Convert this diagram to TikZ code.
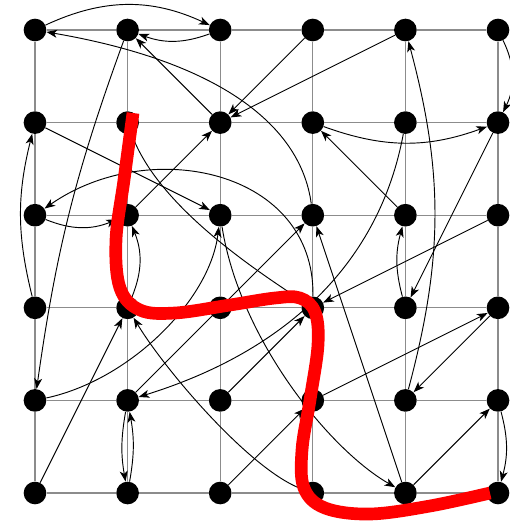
\documentclass[tikz,border=0pt]{standalone}
\usetikzlibrary{arrows.meta}
\begin{document}
\begin{tikzpicture}[x=0.75pt,y=0.75pt,
  dot/.style={circle,fill=black,inner sep=0pt,minimum size=17pt},
  gridln/.style={draw=black!45,line width=1pt},
  edge/.style={draw=black,line width=0.7pt,-{Stealth[length=8pt,width=6pt,inset=2.2pt]}},
  cut/.style={draw=red,line width=9.5pt}]
\useasboundingbox (0,0) rectangle (510,-526);
\foreach \i in {0,...,5}{\foreach \j in {0,...,5}{
  \node[dot] (n\i\j) at ({35+92.6*\i},{-30-92.6*\j}) {};}}
\foreach \i in {0,...,5}{\foreach \j/\k in {0/1,1/2,2/3,3/4,4/5}{
  \draw[gridln] (n\i\j) -- (n\i\k);
  \draw[gridln] (n\j\i) -- (n\k\i);}}
% edges
\draw[edge] (n00) to[bend left=25] (n20);
\draw[edge] (n20) to[bend left=20] (n10);
\draw[edge] (n32) .. controls (300,-120) and (210,-60) .. (n00);
\draw[edge] (n21) -- (n10);
\draw[edge] (n10) to[bend right=6] (n04);
\draw[edge] (n30) -- (n21);
\draw[edge] (n40) -- (n21);
\draw[edge] (n12) -- (n21);
\draw[edge] (n42) -- (n31);
\draw[edge] (n31) to[bend right=20] (n51);
\draw[edge] (n50) to[bend left=26] (n51);
\draw[edge] (n41) .. controls (380,-260) and (290,-350) .. (n14);
\draw[edge] (n43) to[bend left=15] (n42);
\draw[edge] (n51) -- (n43);
\draw[edge] (n44) to[bend right=15] (n40);
\draw[edge] (n53) -- (n44);
\draw[edge] (n34) -- (n53);
\draw[edge] (n45) -- (n32);
\draw[edge] (n45) -- (n54);
\draw[edge] (n54) to[bend left=15] (n55);
\draw[edge] (n52) -- (n33);
\draw[edge] (n24) -- (n33);
\draw[edge] (n25) -- (n34);
\draw[edge] (n22) .. controls (240,-340) and (330,-450) .. (n45);
\draw[edge] (n35) .. controls (250,-470) and (165,-370) .. (n13);
\draw[edge] (n11) .. controls (155,-200) and (240,-260) .. (n33);
\draw[edge] (n33) .. controls (315,-170) and (150,-135) .. (n02);
\draw[edge] (n02) to[bend right=22] (n12);
\draw[edge] (n13) to[bend right=22] (n12);
\draw[edge] (n03) to[bend left=14] (n01);
\draw[edge] (n14) to[bend right=10] (n15);
\draw[edge] (n15) to[bend right=10] (n14);
\draw[edge] (n04) .. controls (130,-380) and (210,-300) .. (n22);
\draw[edge] (n01) -- (n22);
\draw[edge] (n05) -- (n13);
\draw[edge] (n14) -- (n32);
% cut
\draw[cut] plot[smooth,tension=0.6] coordinates {(133,-113) (124,-180) (116,-240) (120,-288) (140,-310) (175,-313) (230,-305) (275,-298) (300,-298) (315,-312) (318,-345) (310,-400) (302,-450) (304,-488) (325,-508) (370,-514) (430,-506) (490,-493)};
\end{tikzpicture}
\end{document}
